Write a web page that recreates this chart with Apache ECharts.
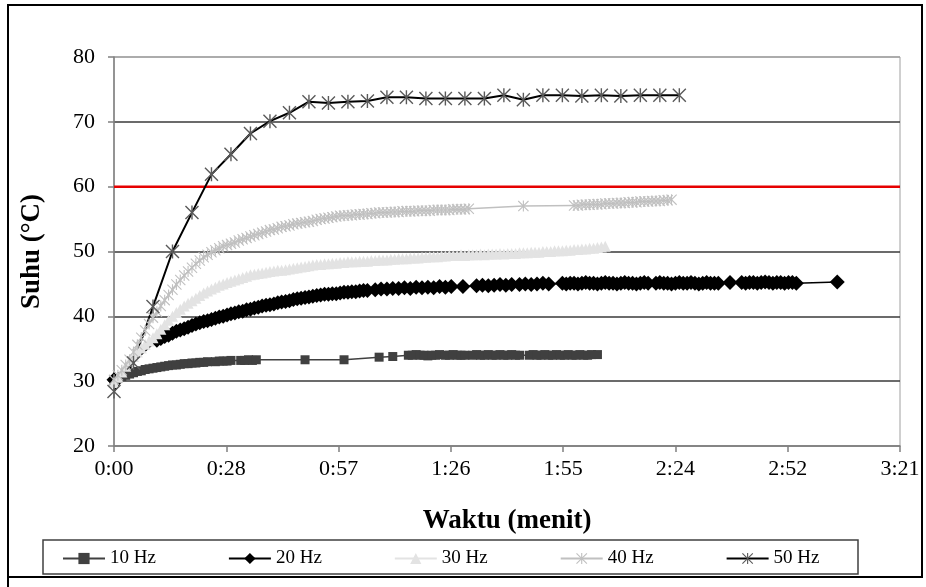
<!DOCTYPE html>
<html><head><meta charset="utf-8">
<script src="https://cdn.jsdelivr.net/npm/echarts@6/dist/echarts.min.js"></script>
<style>html,body{margin:0;padding:0;background:#fff}#c{width:926px;height:587px}</style>
</head><body><div id="c"></div>
<script>
// x in minutes (Excel h:mm axis, step 28.8 min)
const xTickLabels = ['0:00','0:28','0:57','1:26','1:55','2:24','2:52','3:21'];
const seriesNames = ['10 Hz','20 Hz','30 Hz','40 Hz','50 Hz'];
const threshold = [[0,60],[201.6,60]];

const hz10 = [[0,30.0],[1,30.4],[2,30.7],[3,30.9],[4,31.1],[5,31.3],[6,31.5],[7,31.6],[8,31.8],[9,31.9],[10,32.0],
[11,32.1],[12,32.2],[13,32.3],[14,32.4],[15,32.5],[16,32.5],[17,32.6],[18,32.7],[19,32.7],[20,32.8],[21,32.8],[22,32.9],
[23,32.9],[24,33.0],[26,33.0],[27,33.1],[28,33.1],[29,33.1],[30,33.2],[32.5,33.2],[33.5,33.2],[34.5,33.3],[35.5,33.2],
[36.5,33.3],[49,33.3],[59,33.3],[68,33.7],[71.5,33.8],[75.5,34.0],[76.5,34.0],[77.5,34.1],[78.5,34.0],[79.5,34.0],
[80.5,33.9],[81.5,34.0],[82.5,34.0],[83.5,34.1],[85,34.0],[86,34.0],[87,34.1],[88,34.0],[89,34.0],[90,34.0],[92,34.0],
[93,34.1],[94,34.0],[95,34.0],[96,34.1],[97,34.0],[98,34.0],[99,34.1],[100,34.0],[101,34.0],[102,34.1],[103,34.0],
[104,34.0],[106.5,34.0],[107.5,34.1],[108.5,34.0],[109.5,34.0],[110.5,34.1],[111.5,34.0],[112.5,34.0],[113.5,34.1],
[114.5,34.0],[115.5,34.0],[116.5,34.1],[117.5,34.0],[118.5,34.0],[119.5,34.1],[120.5,34.0],[121.5,34.0],[122.5,34.1],[124,34.1]];

const hz20 = [[0,30.2],[11,36.3],[12,36.6],[13,36.9],[14,37.1],[15,37.4],[16,37.7],[17,37.9],[18,38.1],[19,38.3],[20,38.6],
[21,38.8],[22,39.0],[23,39.2],[24,39.3],[25,39.5],[26,39.7],[27,39.9],[28,40.0],[29,40.2],[30,40.4],[31,40.5],[32,40.7],
[33,40.8],[34,41.0],[35,41.1],[36,41.3],[37,41.4],[38,41.6],[39,41.7],[40,41.8],[41,41.9],[42,42.1],[43,42.2],[44,42.3],
[45,42.4],[46,42.6],[47,42.7],[48,42.8],[49,42.9],[50,43.0],[51,43.1],[52,43.2],[53,43.3],[54,43.4],[55,43.4],[56,43.5],
[57,43.5],[58,43.6],[59,43.7],[60,43.7],[61,43.8],[62,43.8],[63,43.9],[64,44.0],[65,44.0],[67,44.1],[68.5,44.2],[70,44.2],
[71.5,44.3],[73,44.3],[74.5,44.4],[76,44.3],[77.5,44.5],[79,44.4],[80.5,44.5],[82,44.4],[83.5,44.6],[85,44.5],[86.5,44.6],
[89.5,44.6],[93,44.7],[94.5,44.8],[96,44.7],[97.5,44.8],[99,44.9],[100.5,44.8],[102,44.9],[104,44.9],[105.5,45.0],[107,44.9],
[108.5,45.0],[110,45.1],[111.5,45.0],[115,45.1],[116,45.0],[117,45.1],[118,45.1],[119,45.0],[120,45.1],[121,45.2],[122,45.1],
[123,45.1],[124,45.0],[125,45.1],[126,45.2],[127,45.1],[128,45.1],[129,45.0],[130,45.1],[131,45.2],[132,45.1],[133,45.1],
[134,45.0],[135,45.1],[136,45.2],[137,45.1],[139,45.1],[140,45.2],[141,45.1],[142,45.1],[143,45.0],[144,45.1],[145,45.2],
[146,45.1],[147,45.1],[148,45.2],[149,45.1],[150,45.0],[151,45.1],[152,45.2],[153,45.1],[154,45.1],[155,45.1],[158,45.2],
[161,45.2],[162,45.1],[163,45.2],[164,45.2],[165,45.1],[166,45.2],[167,45.3],[168,45.2],[169,45.1],[170,45.2],[171,45.2],
[172,45.1],[173,45.2],[174,45.2],[175,45.1],[185.5,45.3]];

const hz30 = [[0,29.8],[1,30.6],[2,31.4],[3,32.3],[4,33.1],[5,33.8],[6,34.5],[7,35.1],[8,35.7],[9,36.2],[10,36.7],[11,37.3],
[12,38.0],[13,38.7],[14,39.4],[15,40.0],[16,40.6],[17,41.1],[18,41.6],[19,42.0],[20,42.4],[21,42.8],[22,43.2],[23,43.6],
[24,43.9],[25,44.2],[26,44.5],[27,44.8],[28,45.0],[29,45.2],[30,45.4],[31,45.6],[32,45.8],[33,46.0],[34,46.2],[35,46.4],
[36,46.5],[37,46.6],[38,46.7],[39,46.8],[40,46.9],[41,47.0],[42,47.1],[43,47.1],[44,47.2],[45,47.3],[46,47.4],[47,47.5],
[48,47.6],[49,47.7],[50,47.8],[51,47.9],[52,48.0],[53,48.0],[54,48.1],[55,48.1],[56,48.2],[57,48.2],[58,48.3],[59,48.3],
[60,48.4],[61,48.4],[62,48.4],[63,48.5],[64,48.5],[65,48.5],[66,48.6],[67,48.6],[68,48.7],[69,48.7],[70,48.7],[71,48.8],
[72,48.8],[73,48.9],[74,48.9],[75,48.9],[76,49.0],[77,49.0],[78,49.0],[79,49.1],[80,49.1],[81,49.2],[82,49.2],[83,49.2],
[84,49.3],[85,49.3],[86,49.4],[87,49.4],[88,49.4],[89,49.5],[90,49.4],[91,49.5],[92,49.5],[93,49.5],[94,49.6],[95,49.5],
[96,49.6],[97,49.6],[98,49.6],[99,49.7],[100,49.6],[101,49.7],[102,49.7],[103,49.7],[104,49.8],[105,49.8],[106,49.8],
[107,49.9],[108,49.9],[109,49.9],[110,50.0],[111,50.0],[112,50.0],[113,50.1],[114,50.1],[115,50.1],[116,50.2],[117,50.2],
[118,50.3],[119,50.3],[120,50.4],[121,50.4],[122,50.5],[123,50.5],[124,50.6],[125,50.7],[126,50.8]];

const hz40 = [[0,30.2],[1,30.9],[2,31.7],[3,32.5],[4,33.3],[5,34.5],[6,35.6],[7,36.7],[8,37.8],[9,38.8],[10,39.8],[11,40.7],
[12,41.6],[13,42.5],[14,43.3],[15,44.1],[16,44.9],[17,45.6],[18,46.3],[19,46.9],[20,47.5],[21,48.1],[22,48.6],[23,49.1],
[24,49.5],[25,49.9],[26,50.2],[27,50.5],[28,50.8],[29,51.0],[30,51.2],[31,51.4],[32,51.7],[33,51.9],[34,52.1],[35,52.3],
[36,52.5],[37,52.7],[38,52.9],[39,53.1],[40,53.3],[41,53.4],[42,53.6],[43,53.8],[44,53.9],[45,54.0],[46,54.2],[47,54.3],
[48,54.4],[49,54.5],[50,54.6],[51,54.7],[52,54.9],[53,55.0],[54,55.1],[55,55.2],[56,55.3],[57,55.4],[58,55.5],[59,55.5],
[60,55.6],[61,55.6],[62,55.7],[63,55.7],[64,55.8],[65,55.8],[66,55.9],[67,55.9],[68,56.0],[69,56.0],[70,56.0],[71,56.1],
[72,56.1],[73,56.1],[74,56.2],[75,56.2],[76,56.2],[77,56.2],[78,56.3],[79,56.3],[80,56.3],[81,56.3],[82,56.4],[83,56.4],
[84,56.4],[85,56.4],[86,56.4],[87,56.5],[88,56.5],[89,56.5],[90,56.5],[91,56.6],[105,57.0],[118,57.1],[119,57.1],[120,57.2],
[121,57.2],[122,57.2],[123,57.3],[124,57.3],[125,57.3],[126,57.4],[127,57.4],[128,57.4],[129,57.5],[130,57.5],[131,57.5],
[132,57.6],[133,57.6],[134,57.6],[135,57.7],[136,57.7],[137,57.7],[138,57.8],[139,57.8],[140,57.8],[141,57.9],[142,57.9],[143,58.0]];

const hz50 = [[0,28.4],[5,32.8],[10,41.5],[15,50.0],[20,56.0],[25,61.9],[30,65.0],[35,68.2],[40,70.1],[45,71.4],[50,73.1],
[55,72.9],[60,73.1],[65,73.2],[70,73.8],[75,73.8],[80,73.6],[85,73.6],[90,73.6],[95,73.6],[100,74.1],[105,73.4],[110,74.1],
[115,74.1],[120,74.0],[125,74.1],[130,74.0],[135,74.1],[140,74.1],[145,74.1]];

const FONT = 'Liberation Serif';
const STAR = 'path://M9 0L11 0L11 20L9 20Z M0 1.4L1.4 0L20 18.6L18.6 20Z M18.6 0L20 1.4L1.4 20L0 18.6Z';

const chart = echarts.init(document.getElementById('c'), null, {renderer:'canvas'});
function lineSeries(name, data, color, lineColor, symbol, size, lw){
  return {name, type:'line', data, symbol, symbolSize:size, clip:false,
    itemStyle:{color}, lineStyle:{color:lineColor, width:lw}, emphasis:{disabled:true}, animation:false};
}
chart.setOption({
  animation:false,
  backgroundColor:'#fff',
  grid:{left:114, top:57, right:26, bottom:141, show:true, borderColor:'#a0a0a0', borderWidth:1, backgroundColor:'transparent'},
  legend:{data:seriesNames, left:62, top:549, padding:0, itemWidth:42, itemHeight:14, itemGap:72,
    textStyle:{fontFamily:FONT, fontSize:19, color:'#000'}, selectedMode:false},
  xAxis:{type:'value', min:0, max:201.6, interval:28.8,
    axisLine:{show:true, lineStyle:{color:'#808080', width:1.5}},
    axisTick:{show:true, length:6, lineStyle:{color:'#808080', width:1.5}},
    axisLabel:{formatter:(v)=>xTickLabels[Math.round(v/28.8)], color:'#000', fontFamily:FONT, fontSize:22, margin:12},
    splitLine:{show:false},
    name:'Waktu (menit)', nameLocation:'middle', nameGap:62,
    nameTextStyle:{fontFamily:FONT, fontWeight:'bold', fontSize:27, color:'#000'}},
  yAxis:{type:'value', min:20, max:80, interval:10,
    axisLine:{show:true, lineStyle:{color:'#808080', width:1.5}},
    axisTick:{show:true, length:6, lineStyle:{color:'#808080', width:1.5}},
    axisLabel:{color:'#000', fontFamily:FONT, fontSize:22, margin:19},
    splitLine:{show:true, lineStyle:{color:['#808080','#3a3a3a','#3a3a3a','#3a3a3a','#3a3a3a','#3a3a3a','#a0a0a0'], width:1.5}},
    name:'Suhu (°C)', nameLocation:'middle', nameGap:68, nameRotate:90,
    nameTextStyle:{fontFamily:FONT, fontWeight:'bold', fontSize:27, color:'#000'}},
  graphic:[
    {type:'rect', shape:{x:8, y:5, width:914, height:572}, style:{fill:'none', stroke:'#000', lineWidth:2}, silent:true},
    {type:'line', shape:{x1:8, y1:577, x2:8, y2:587}, style:{stroke:'#000', lineWidth:2}, silent:true},
    {type:'rect', shape:{x:43, y:540, width:815, height:34}, style:{fill:'none', stroke:'#404040', lineWidth:1.5}, silent:true}
  ],
  series:[
    {name:'batas', type:'line', data:threshold, symbol:'none', lineStyle:{color:'#e60000', width:2.5}, silent:true, animation:false},
    lineSeries('10 Hz', hz10, '#404040', '#404040', 'rect', 9, 1.5),
    lineSeries('20 Hz', hz20, '#000000', '#000000', 'diamond', 15, 1.5),
    lineSeries('30 Hz', hz30, '#e3e3e3', '#e3e3e3', 'triangle', 11, 1.5),
    lineSeries('40 Hz', hz40, '#c0c0c0', '#c0c0c0', STAR, 11, 1.5),
    lineSeries('50 Hz', hz50, '#5a5a5a', '#000000', STAR, 14, 2)
  ]
});
</script></body></html>
